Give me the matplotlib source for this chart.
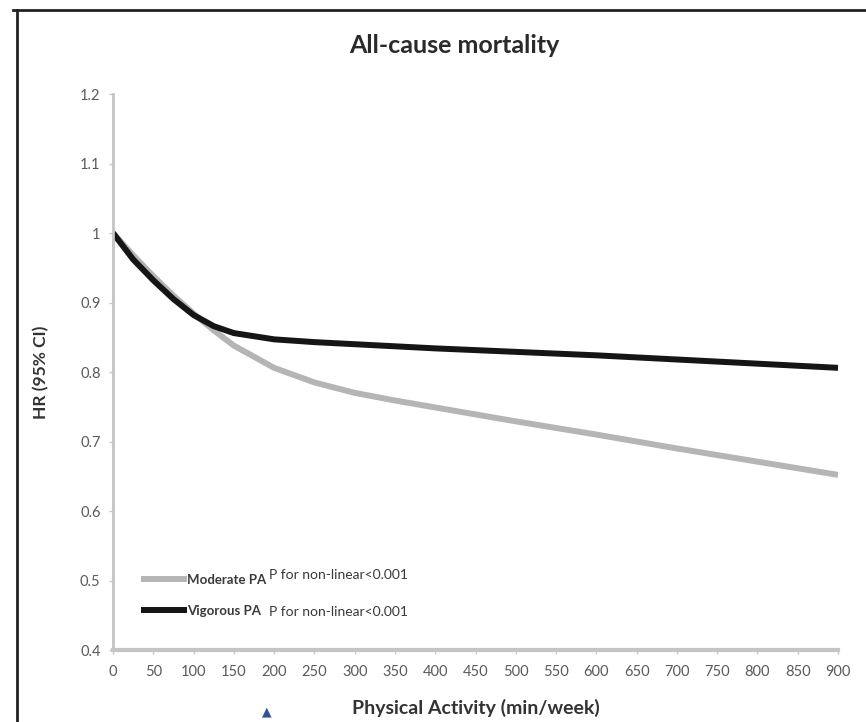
import matplotlib
matplotlib.use("Agg")
import matplotlib.pyplot as plt
from matplotlib.lines import Line2D

plt.rcParams['font.family'] = ['Lato', 'DejaVu Sans']

minutes = [0, 25, 50, 75, 100, 125, 150, 200, 250, 300, 350, 400, 500, 600, 700, 800, 900]
moderate_hr = [1.0, 0.968, 0.938, 0.91, 0.884, 0.860, 0.838, 0.806, 0.785, 0.770, 0.759, 0.749, 0.729, 0.710, 0.690, 0.671, 0.652]
vigorous_hr = [1.0, 0.962, 0.932, 0.905, 0.882, 0.866, 0.856, 0.847, 0.843, 0.840, 0.837, 0.834, 0.829, 0.824, 0.818, 0.812, 0.806]

xticks = list(range(0, 901, 50))
yticks = [0.4, 0.5, 0.6, 0.7, 0.8, 0.9, 1.0, 1.1, 1.2]
ytick_labels = ['0.4', '0.5', '0.6', '0.7', '0.8', '0.9', '1', '1.1', '1.2']

fig = plt.figure(figsize=(8.66, 7.22), dpi=100)
ax = fig.add_axes([0.1305, 0.0997, 0.8372, 0.7701])

ax.plot(minutes, moderate_hr, color='#b5b5b5', lw=4.3, solid_capstyle='butt', label='Moderate PA')
ax.plot(minutes, vigorous_hr, color='#151515', lw=4.3, solid_capstyle='butt', label='Vigorous PA')

ax.set_xlim(0, 900)
ax.set_ylim(0.4, 1.2)
ax.set_xticks(xticks)
ax.set_xticklabels([str(t) for t in xticks])
ax.set_yticks(yticks)
ax.set_yticklabels(ytick_labels)
ax.tick_params(axis='both', colors='#c8c8c8', labelcolor='#5a5a5a', labelsize=10.5, length=3, width=1)
ax.tick_params(axis='x', pad=8)
ax.tick_params(axis='y', pad=6)

for s in ['top', 'right']:
    ax.spines[s].set_visible(False)
ax.spines['left'].set_color('#c4c4c4')
ax.spines['left'].set_linewidth(2)
ax.spines['bottom'].set_color('#c4c4c4')
ax.spines['bottom'].set_linewidth(3)

leg = ax.legend(loc='lower left', bbox_to_anchor=(0.022, 0.038), frameon=False,
                handlelength=3.5, handletextpad=0.0, labelspacing=1.45,
                prop={'weight': 'bold', 'size': 9.5})
for t in leg.get_texts():
    t.set_color('#3a3a3a')

ax.text(0.215, 0.135, 'P for non-linear<0.001', transform=ax.transAxes, fontsize=10,
        color='#3a3a3a', va='center', ha='left')
ax.text(0.215, 0.068, 'P for non-linear<0.001', transform=ax.transAxes, fontsize=10,
        color='#3a3a3a', va='center', ha='left')

fig.text(0.525, 0.937, 'All-cause mortality', ha='center', va='center', fontsize=18,
         fontweight='bold', color='#2a2a2a')
ax.set_ylabel('HR (95% CI)', fontsize=12.5, fontweight='bold', color='#333333', labelpad=22)
fig.text(0.55, 0.02, 'Physical Activity (min/week)', ha='center', va='center', fontsize=14,
         fontweight='bold', color='#333333')

# outer frame (top and left only, as in the reference crop)
fig.add_artist(Line2D([0.015, 1.0], [0.986, 0.986], transform=fig.transFigure, color='#222222', lw=2))
fig.add_artist(Line2D([0.0196, 0.0196], [0.0, 0.986], transform=fig.transFigure, color='#222222', lw=2))

fig.text(0.308, 0.005, '\u25b2', ha='center', va='bottom', fontsize=9, color='#2f5597',
         family=['DejaVu Sans'])

fig.savefig('out.png', dpi=100)
